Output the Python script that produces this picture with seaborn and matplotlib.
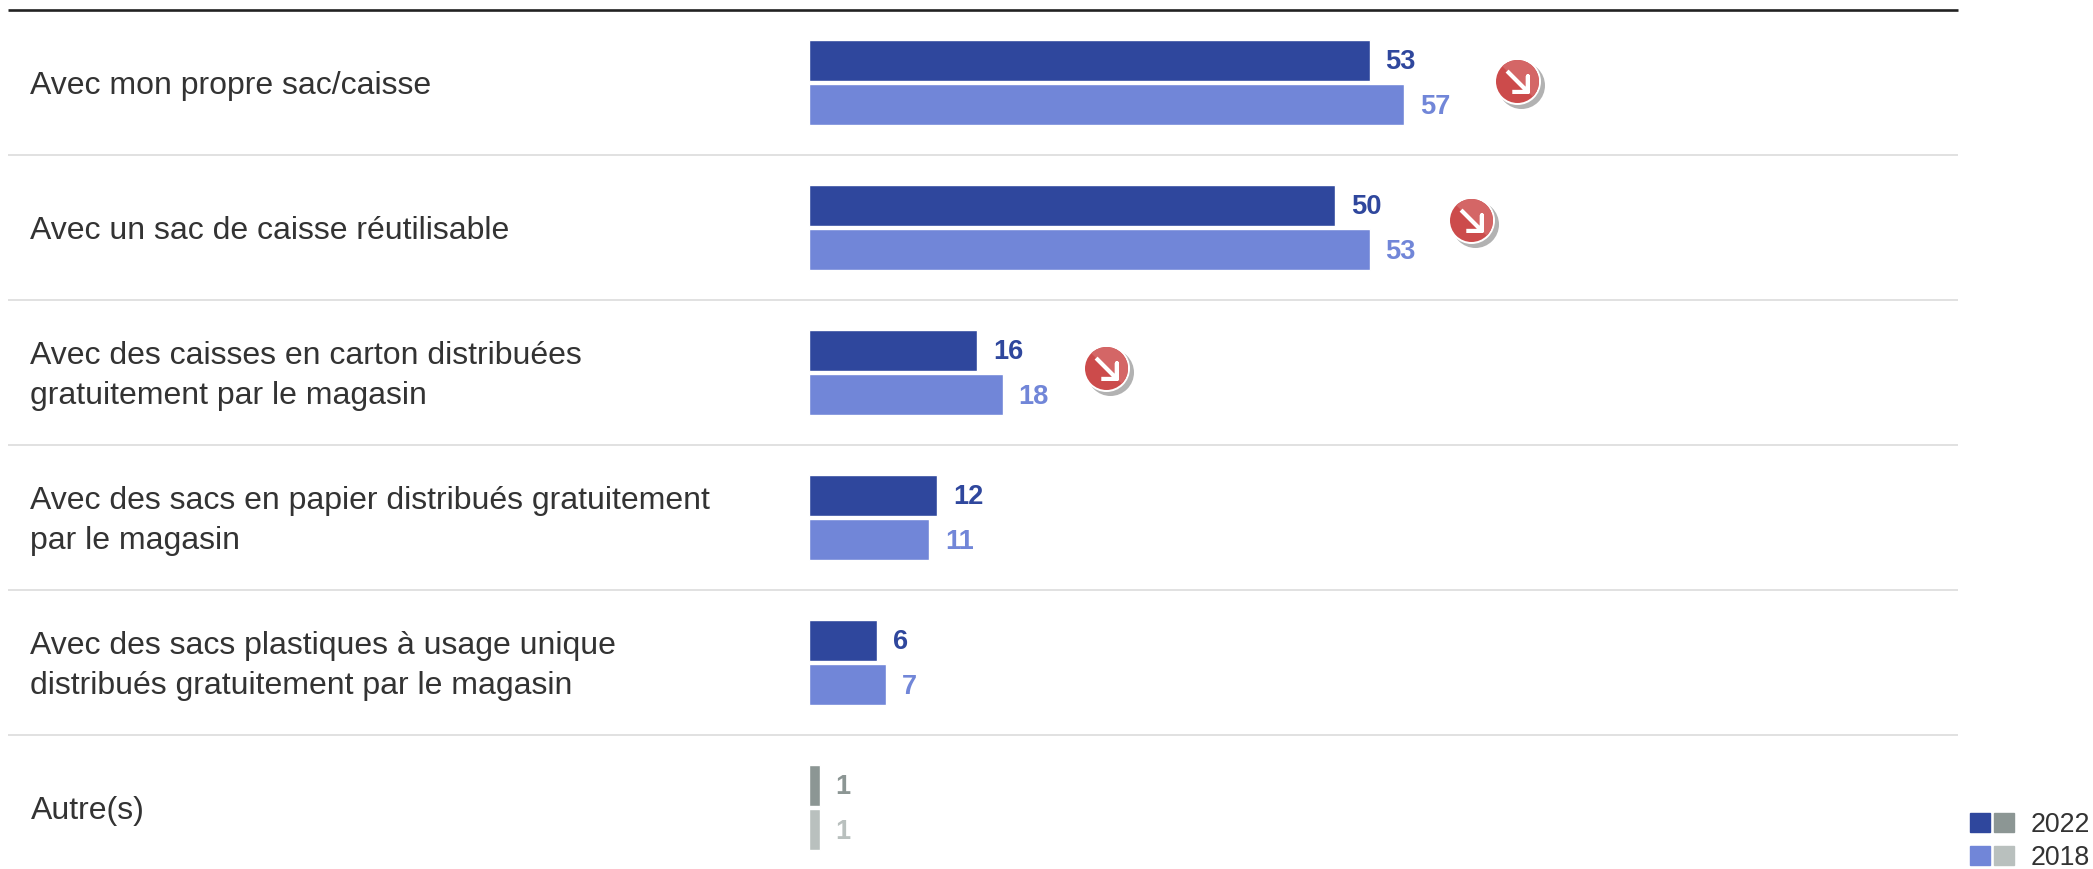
import numpy as np
import pandas as pd
import matplotlib
matplotlib.use("Agg")
import matplotlib.pyplot as plt
import seaborn as sns
from matplotlib.markers import MarkerStyle
from matplotlib.patches import Patch
from matplotlib.path import Path
from matplotlib.legend_handler import HandlerTuple
from matplotlib.transforms import Affine2D, ScaledTranslation, blended_transform_factory

categories = [
    "Avec mon propre sac/caisse",
    "Avec un sac de caisse réutilisable",
    "Avec des caisses en carton distribuées\ngratuitement par le magasin",
    "Avec des sacs en papier distribués gratuitement\npar le magasin",
    "Avec des sacs plastiques à usage unique\ndistribués gratuitement par le magasin",
    "Autre(s)",
]
values_2022 = [53.4, 50.1, 16.0, 12.2, 6.45, 1.0]
values_2018 = [56.7, 53.4, 18.45, 11.45, 7.3, 1.0]
years = ["2022", "2018"]
trend_x = [67.4, 63.0, 28.3]
trend_y = [-0.01, 0.948, 1.967]

DARK, LIGHT = "#2F479D", "#7186D8"
GREY_D, GREY_L = "#8C9694", "#B9C0BE"
TXT = "#333333"

sns.set_theme(style="white")
plt.rcParams["font.family"] = ["Liberation Sans", "DejaVu Sans"]
plt.rcParams["text.kerning_factor"] = 0

W, H = 2093, 869
fig = plt.figure(figsize=(W / 100, H / 100), dpi=100, facecolor="white")
ax = fig.add_axes([809 / W, 0, 1149 / W, (H - 10) / H])

df = pd.DataFrame({
    "cat": categories * 2,
    "val": values_2022 + values_2018,
    "year": [years[0]] * 6 + [years[1]] * 6,
})
sns.barplot(data=df, y="cat", x="val", hue="year", order=categories, hue_order=years,
            palette=[DARK, LIGHT], width=0.614, gap=0.07, saturation=1,
            legend=False, ax=ax)

ax.set_xlim(0, 1149 / 10.5)
ax.set_ylim((H - 82.5) / 145, -0.5)
ax.set_xlabel("")
ax.set_ylabel("")
ax.set_xticks([])
sns.despine(ax=ax, left=True, bottom=True, top=True, right=True)

ax.tick_params(axis="y", length=0, pad=(809 - 30.5) * 0.72, labelsize=23, labelcolor=TXT)
for lab, cat in zip(ax.get_yticklabels(), categories):
    lab.set_ha("left")
    lab.set_multialignment("left")
    lab.set_linespacing(1.44)
    if "\n" in cat:
        lab.set_transform(lab.get_transform() + Affine2D().translate(0, 5))

# value labels and the grey "Autre(s)" bars
for cont, col, grey in zip(ax.containers, [DARK, LIGHT], [GREY_D, GREY_L]):
    cont[-1].set_facecolor(grey)
    texts = ax.bar_label(cont, fmt="%.0f", padding=11.4, fontsize=19.6,
                         fontweight="bold", color=col)
    texts[-1].set_color(grey)
    for t in texts:
        t.xyann = (t.xyann[0], t.xyann[1] - 1.5)

# row separators
tr = blended_transform_factory(fig.transFigure, ax.transData)
for k in range(6):
    y = k - 0.5
    ax.plot([8 / W, 1958 / W], [y, y], transform=tr, clip_on=False,
            color="#222222" if k == 0 else "#D9D9D9", lw=1.9 if k == 0 else 1.1,
            solid_capstyle="butt", zorder=1)

# trend badges
shadow = ax.transData + ScaledTranslation(4 / 100, -4 / 100, fig.dpi_scale_trans)
ax.scatter(trend_x, trend_y, s=(47 * 0.72) ** 2, color="#B2B2B2", transform=shadow,
           linewidths=0, zorder=3, clip_on=False)
ax.scatter(trend_x, trend_y, s=(47 * 0.72) ** 2, color="white", linewidths=0, zorder=4)
ax.scatter(trend_x, trend_y, s=(43 * 0.72) ** 2, color="#CC4B4B", linewidths=0, zorder=5)
half = MarkerStyle("o", fillstyle="top", transform=Affine2D().rotate_deg(-45))
ax.scatter(trend_x, trend_y, s=(43 * 0.72) ** 2, marker=half, color="#D46666",
           linewidths=0, zorder=6)
arrow = Path([(-1, 1), (1, -1), (1, 0.5), (1, -1), (-0.5, -1)],
             [Path.MOVETO, Path.LINETO, Path.LINETO, Path.LINETO, Path.LINETO])
ax.plot(trend_x, trend_y, ls="", marker=MarkerStyle(arrow, joinstyle="miter"), ms=15,
        mfc="none", mec="white", mew=3.0, zorder=7)

# legend
handles = [
    (Patch(color=DARK), Patch(color=GREY_D)),
    (Patch(color=LIGHT), Patch(color=GREY_L)),
]
leg = fig.legend(handles, years, handler_map={tuple: HandlerTuple(ndivide=None, pad=0.15)},
                 loc="lower right", bbox_to_anchor=(0.9985, -0.002), frameon=False,
                 fontsize=19.3, labelcolor=TXT, handlelength=1.64, handleheight=0.71,
                 handletextpad=0.6, labelspacing=0.25, borderpad=0, borderaxespad=0)

fig.savefig("out.png", dpi=100, facecolor="white")
